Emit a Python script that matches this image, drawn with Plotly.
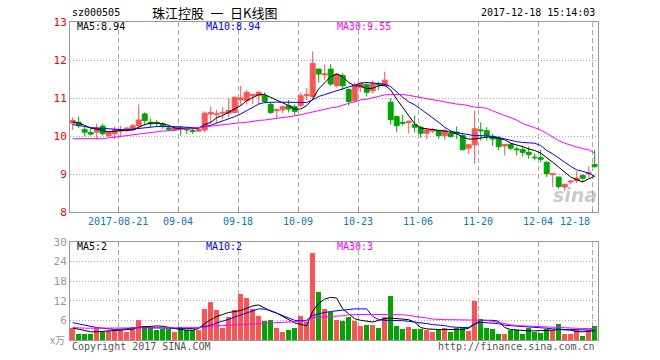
import plotly.graph_objects as go

# ---------------- data ----------------
stock_code = "sz000505"
title_text = "珠江控股\u2002一\u2002日K线图"
timestamp = "2017-12-18 15:14:03"

date_labels = ["2017-08-21", "09-04", "09-18", "10-09", "10-23",
               "11-06", "11-20", "12-04", "12-18"]
date_label_index = [7, 17, 27, 37, 47, 57, 67, 77, 87]

opens = [10.34,10.36,10.17,10.09,10.10,10.26,10.01,10.06,10.13,10.14,
         10.16,10.27,10.58,10.36,10.36,10.32,10.21,10.16,10.21,10.21,
         10.14,10.13,10.16,10.58,10.56,10.60,10.60,10.62,10.95,10.93,
         11.06,11.06,11.06,10.83,10.67,10.69,10.80,10.77,10.80,11.06,
         11.04,11.76,11.61,11.76,11.32,11.59,11.22,10.93,11.28,11.35,
         11.19,11.37,11.32,10.89,10.51,10.36,10.35,10.30,10.23,10.07,
         10.13,10.14,10.01,10.07,10.10,10.01,9.68,9.77,10.16,10.14,
         9.99,9.95,9.74,9.78,9.66,9.64,9.57,9.44,9.43,9.31,
         8.98,8.92,8.66,8.79,8.83,8.96,9.01,9.25]
highs = [10.49,10.51,10.25,10.21,10.32,10.32,10.14,10.25,10.27,10.23,
         10.32,10.83,10.62,10.45,10.41,10.36,10.27,10.27,10.27,10.23,
         10.21,10.21,10.65,10.77,10.69,10.76,11.00,11.04,11.32,11.21,
         11.09,11.18,11.15,10.89,10.69,10.80,10.95,10.83,11.15,11.26,
         12.23,11.78,11.88,11.89,11.65,11.65,11.26,11.41,11.41,11.41,
         11.46,11.43,11.69,11.00,10.54,10.56,10.41,10.54,10.27,10.19,
         10.21,10.16,10.19,10.16,10.25,10.06,9.79,10.67,10.36,10.23,
         10.06,10.01,9.79,9.81,9.72,9.75,9.72,9.53,9.64,9.33,
         9.01,8.92,8.74,8.85,9.07,8.99,9.20,9.64]
lows = [10.16,10.21,9.99,10.01,9.90,10.01,9.97,9.92,9.97,10.10,
        10.14,10.21,10.27,10.23,10.25,10.19,10.13,10.14,10.01,10.06,
        10.06,10.10,10.10,10.32,10.34,10.45,10.49,10.60,10.80,10.83,
        10.84,10.84,10.86,10.58,10.48,10.60,10.62,10.54,10.77,10.93,
        11.00,11.41,11.47,11.32,11.28,11.21,10.80,10.89,11.15,11.04,
        11.12,11.21,11.30,10.30,10.10,10.27,10.07,10.09,9.95,9.92,
        10.07,9.92,9.90,9.95,9.92,9.62,9.53,9.27,9.88,9.88,
        9.74,9.62,9.49,9.62,9.49,9.46,9.40,9.36,9.31,8.92,
        8.66,8.61,8.55,8.74,8.76,8.79,8.90,9.15]
closes = [10.41,10.28,10.10,10.05,10.21,10.06,10.10,10.16,10.16,10.21,
          10.27,10.42,10.41,10.32,10.34,10.27,10.18,10.21,10.19,10.16,
          10.12,10.17,10.60,10.62,10.58,10.62,10.67,11.02,11.00,11.15,
          11.09,11.15,10.91,10.62,10.69,10.77,10.71,10.65,11.06,11.09,
          11.91,11.63,11.63,11.37,11.63,11.32,10.91,11.32,11.39,11.15,
          11.39,11.35,11.47,10.43,10.27,10.34,10.39,10.23,10.07,10.16,
          10.16,10.01,10.14,9.99,10.06,9.64,9.77,10.19,10.14,10.01,
          9.92,9.72,9.78,9.68,9.64,9.57,9.51,9.43,9.39,9.01,
          9.01,8.67,8.73,8.81,8.89,8.89,9.03,9.20]

ma5 = [10.37,10.34,10.28,10.21,10.18,10.15,10.11,10.13,10.14,10.14,
       10.16,10.23,10.30,10.34,10.34,10.32,10.28,10.21,10.20,10.19,
       10.19,10.21,10.30,10.36,10.48,10.54,10.62,10.71,10.80,10.93,
       11.00,11.09,11.09,11.02,10.95,10.86,10.80,10.71,10.71,10.80,
       10.97,11.24,11.41,11.56,11.63,11.56,11.41,11.32,11.32,11.24,
       11.26,11.32,11.34,11.21,10.97,10.76,10.54,10.32,10.21,10.19,
       10.18,10.16,10.13,10.10,10.06,9.97,9.92,9.92,9.94,9.97,
       9.97,9.94,9.90,9.81,9.77,9.72,9.66,9.62,9.55,9.44,
       9.31,9.18,9.05,8.92,8.85,8.79,8.87,8.94]
ma10 = [10.30,10.28,10.25,10.22,10.21,10.21,10.20,10.19,10.17,10.16,
        10.18,10.20,10.21,10.23,10.25,10.25,10.25,10.25,10.24,10.23,
        10.22,10.21,10.25,10.28,10.34,10.39,10.44,10.51,10.58,10.67,
        10.76,10.84,10.88,10.89,10.89,10.89,10.89,10.89,10.89,10.88,
        10.95,11.04,11.09,11.14,11.19,11.24,11.28,11.34,11.39,11.41,
        11.39,11.37,11.36,11.30,11.15,11.02,10.90,10.82,10.71,10.60,
        10.49,10.36,10.23,10.13,10.09,10.06,10.03,10.01,10.01,10.00,
        9.99,9.96,9.92,9.89,9.85,9.83,9.82,9.81,9.75,9.62,
        9.53,9.43,9.31,9.20,9.11,9.07,9.02,8.94]
ma30 = [9.93,9.93,9.93,9.93,9.93,9.93,9.95,9.97,9.99,10.01,
        10.03,10.06,10.07,10.09,10.11,10.13,10.14,10.15,10.18,10.19,
        10.20,10.22,10.24,10.26,10.28,10.30,10.32,10.33,10.35,10.36,
        10.39,10.41,10.42,10.44,10.46,10.48,10.50,10.53,10.56,10.60,
        10.63,10.67,10.70,10.74,10.76,10.82,10.86,10.90,10.95,10.97,
        11.01,11.04,11.08,11.09,11.09,11.09,11.07,11.04,11.03,11.00,
        10.96,10.92,10.89,10.86,10.84,10.83,10.79,10.76,10.75,10.73,
        10.66,10.60,10.53,10.48,10.42,10.33,10.27,10.21,10.16,10.07,
        9.97,9.88,9.81,9.75,9.71,9.67,9.64,9.55]

volumes = [3.8,2.0,2.0,2.0,3.8,2.5,2.8,3.2,3.2,2.5,
           4.2,6.2,4.5,3.8,3.2,3.4,3.6,2.5,4.2,3.0,
           3.0,3.2,9.5,11.7,9.3,3.8,7.2,9.3,14.0,12.8,
           9.5,7.5,6.0,6.3,3.7,2.5,3.0,3.8,7.5,5.5,
           26.7,14.7,9.5,8.7,6.3,6.0,7.2,6.0,4.5,4.8,
           4.8,3.7,7.0,13.5,4.5,3.4,4.2,3.3,3.3,3.0,
           2.4,3.5,3.8,2.5,3.8,4.2,2.8,12.0,6.5,3.8,
           3.5,2.0,2.0,3.0,3.0,1.8,3.8,2.4,2.2,3.5,
           3.2,5.0,2.0,2.0,3.0,1.2,3.0,4.5]
vol_ma5 = [3.7,3.3,2.8,2.5,2.5,2.6,2.8,2.9,3.0,3.0,
           3.3,3.9,4.1,4.3,4.3,4.2,3.8,3.4,3.2,3.0,
           3.0,3.5,5.0,6.2,7.2,7.8,8.4,8.7,9.0,9.7,
           10.4,10.7,9.7,8.8,8.2,7.2,6.0,5.2,4.8,4.3,
           8.8,11.2,12.5,13.0,12.8,9.5,8.0,6.5,6.0,5.7,
           5.5,6.0,6.5,6.7,6.5,6.4,6.2,5.4,3.8,3.4,
           3.2,3.2,3.2,3.2,3.2,3.2,3.6,4.8,6.0,6.0,
           6.0,5.7,3.8,3.2,3.0,2.8,2.8,2.8,2.8,2.9,
           3.0,3.2,3.2,3.0,2.6,2.5,2.7,2.8]
vol_ma10 = [5.3,4.9,4.5,4.2,3.8,3.6,3.4,3.2,3.3,3.5,
            3.6,3.8,3.8,3.8,3.8,3.7,3.6,3.5,3.5,3.5,
            3.5,3.8,4.2,4.5,5.2,5.7,6.3,7.0,7.6,8.3,
            8.9,9.5,9.4,9.0,8.2,7.5,6.7,6.0,5.9,6.0,
            7.5,8.0,8.4,8.7,8.9,9.0,9.4,9.5,9.5,9.5,
            7.2,6.2,6.0,6.0,6.0,5.9,5.7,5.5,5.4,5.0,
            4.7,4.6,4.4,4.0,3.8,3.8,3.8,5.0,5.4,5.3,
            5.2,5.0,4.5,4.4,4.2,4.1,4.0,3.9,3.8,3.6,
            3.4,3.2,3.2,3.2,3.2,3.2,3.1,3.0]
vol_ma30 = [3.8,3.6,3.6,3.6,3.6,3.6,3.6,3.6,3.6,3.6,
            3.6,3.8,3.8,3.8,3.8,3.8,3.8,3.8,3.8,3.8,
            3.8,3.8,3.8,4.2,4.3,4.4,4.5,4.6,4.8,4.9,
            5.0,5.1,5.2,5.3,5.4,5.5,5.6,5.7,5.7,5.8,
            6.8,6.9,7.0,7.1,7.2,7.4,7.7,7.8,7.8,7.8,
            7.8,7.8,7.8,7.8,7.8,7.7,7.5,7.3,7.0,6.7,
            6.4,6.2,6.2,6.2,6.2,6.2,6.2,6.2,6.2,6.0,
            5.7,5.3,4.8,4.6,4.4,4.3,4.2,4.1,4.0,3.9,
            3.8,3.8,3.6,3.6,3.6,3.5,3.5,3.5]

price_ticks = [8, 9, 10, 11, 12, 13]
volume_ticks = [6, 12, 18, 24, 30]
ma_price_text = ["MA5:8.94", "MA10:8.94", "MA30:9.55"]
ma_volume_text = ["MA5:2", "MA10:2", "MA30:3"]

# ---------------- styling / layout ----------------
W, H = 660, 360
RED = "#ff5252"
GREEN = "#00a600"
MA_COLORS = ["#000000", "#0000ff", "#ff00ff"]
FRAME = "#999999"
GRID = "#aaaaaa"
MONO = "DejaVu Sans Mono"

idx = list(range(len(closes)))
x_left, x_right = 70, 597.7
x_range = [-0.45, 87.5]

def py(p):
    return 1 - p / H

def px(p):
    return p / W

grid_pos = [i + 0.6 for i in date_label_index[:-1]] + [date_label_index[-1] - 0.4]

fig = go.Figure()

fig.add_trace(go.Candlestick(
    x=idx, open=opens, high=highs, low=lows, close=closes,
    increasing=dict(line=dict(color=RED, width=1), fillcolor=RED),
    decreasing=dict(line=dict(color=GREEN, width=1), fillcolor=GREEN),
    whiskerwidth=0, xaxis="x", yaxis="y", showlegend=False, hoverinfo="skip"))

for series, col in zip([ma5, ma10, ma30], MA_COLORS):
    fig.add_trace(go.Scatter(x=idx, y=series, mode="lines",
                             line=dict(color=col, width=1),
                             xaxis="x", yaxis="y", showlegend=False, hoverinfo="skip"))

bar_colors = [RED if c >= o else GREEN for o, c in zip(opens, closes)]
fig.add_trace(go.Bar(x=idx, y=volumes, marker=dict(color=bar_colors, line=dict(width=0)),
                     width=0.83, xaxis="x2", yaxis="y2", showlegend=False, hoverinfo="skip"))

for series, col in zip([vol_ma5, vol_ma10, vol_ma30], MA_COLORS):
    fig.add_trace(go.Scatter(x=idx, y=series, mode="lines",
                             line=dict(color=col, width=1),
                             xaxis="x2", yaxis="y2", showlegend=False, hoverinfo="skip"))

xcommon = dict(domain=[px(x_left), px(x_right)], range=x_range, tickvals=grid_pos,
               showticklabels=False, showgrid=True, gridcolor=GRID, griddash="5px,3px",
               gridwidth=1, showline=True, mirror=True, linecolor=FRAME, linewidth=1,
               zeroline=False, fixedrange=True)

annotations = []
annotations.append(dict(text=stock_code, x=px(70), y=py(13), xref="paper", yref="paper",
                        xanchor="left", yanchor="middle", showarrow=False,
                        font=dict(family=MONO, size=10, color="#000")))
annotations.append(dict(text=title_text, x=px(214), y=py(12.5), xref="paper", yref="paper",
                        xanchor="center", yanchor="middle", showarrow=False,
                        font=dict(family="Noto Sans CJK SC", size=13, color="#000")))
annotations.append(dict(text=timestamp, x=px(597), y=py(13), xref="paper", yref="paper",
                        xanchor="right", yanchor="middle", showarrow=False,
                        font=dict(family=MONO, size=10, color="#000")))
label_x = [75, 204, 335]
for t, lx, col in zip(ma_price_text, label_x, MA_COLORS):
    annotations.append(dict(text=t, x=px(lx), y=py(26.5), xref="paper", yref="paper",
                            xanchor="left", yanchor="middle", showarrow=False,
                            font=dict(family=MONO, size=10, color=col)))
for t, lx, col in zip(ma_volume_text, label_x, MA_COLORS):
    annotations.append(dict(text=t, x=px(lx), y=py(246.5), xref="paper", yref="paper",
                            xanchor="left", yanchor="middle", showarrow=False,
                            font=dict(family=MONO, size=10, color=col)))
for i, (lab, gx) in enumerate(zip(date_labels, grid_pos)):
    last = i == len(date_labels) - 1
    annotations.append(dict(text=lab, x=gx, y=py(221), xref="x", yref="paper",
                            xanchor="right" if last else "center", yanchor="middle",
                            showarrow=False,
                            font=dict(family=MONO, size=10, color="#0a78c8")))
annotations.append(dict(text="x万", x=px(57), y=py(339.5), xref="paper", yref="paper",
                        xanchor="center", yanchor="middle", showarrow=False,
                        font=dict(family="Noto Sans CJK SC", size=10, color="#999")))
annotations.append(dict(text="Copyright 2017 SINA.COM", x=px(70), y=py(346), xref="paper",
                        yref="paper", xanchor="left", yanchor="middle", showarrow=False,
                        font=dict(family=MONO, size=10, color="#555")))
annotations.append(dict(text="http://finance.sina.com.cn", x=px(597), y=py(346), xref="paper",
                        yref="paper", xanchor="right", yanchor="middle", showarrow=False,
                        font=dict(family=MONO, size=10, color="#555")))
annotations.append(dict(text="<b><i>sina</i></b>", x=px(575), y=py(195), xref="paper",
                        yref="paper", xanchor="center", yanchor="middle", showarrow=False,
                        font=dict(family="DejaVu Sans", size=19, color="rgba(160,160,160,0.55)")))

fig.update_layout(
    width=W, height=H, margin=dict(l=0, r=0, t=0, b=0, autoexpand=False),
    autosize=False,
    paper_bgcolor="white", plot_bgcolor="white",
    boxgap=0.18, boxgroupgap=0, bargap=0,
    showlegend=False,
    xaxis=dict(anchor="y", ticks="inside", ticklen=3, tickcolor=FRAME,
               rangeslider=dict(visible=False), **xcommon),
    xaxis2=dict(anchor="y2", ticks="", **xcommon),
    yaxis=dict(domain=[py(212), py(22)], range=[8, 13], tickvals=price_ticks,
               tickfont=dict(family=MONO, size=11, color="#ff0000"),
               showgrid=True, gridcolor=GRID, griddash="1px,2px", gridwidth=1,
               showline=True, mirror=True, linecolor=FRAME, linewidth=1,
               zeroline=False, ticks="", anchor="x", fixedrange=True),
    yaxis2=dict(domain=[py(340), py(241.7)], range=[0, 30], tickvals=volume_ticks,
                tickfont=dict(family=MONO, size=11, color="#999999"),
                showgrid=True, gridcolor=GRID, griddash="1px,2px", gridwidth=1,
                showline=True, mirror=True, linecolor=FRAME, linewidth=1,
                zeroline=False, ticks="", anchor="x2", fixedrange=True),
    annotations=annotations,
)

fig.write_html("out.html", config={"displayModeBar": False},
               post_script="document.body.style.margin='0px';document.body.style.overflow='hidden';")
